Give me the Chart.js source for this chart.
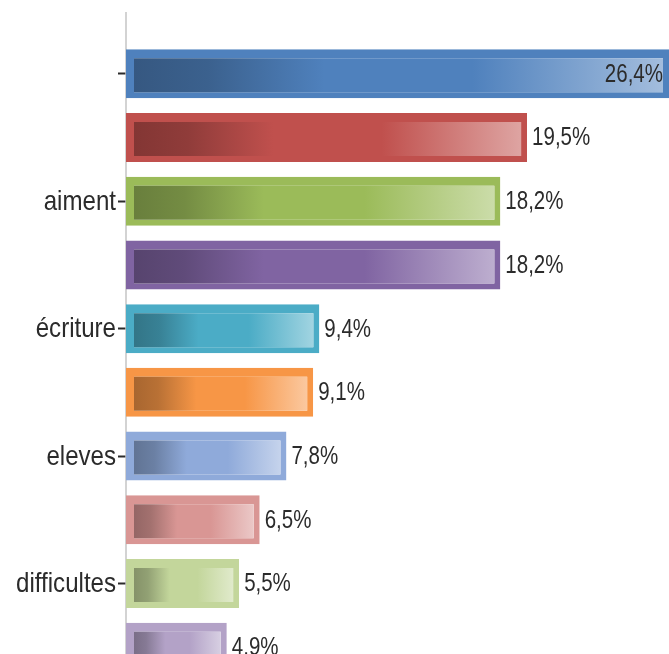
<!DOCTYPE html>
<html>
<head>
<meta charset="utf-8">
<script src="https://cdn.jsdelivr.net/npm/chart.js@4.4.1/dist/chart.umd.min.js"></script>
<style>
  html, body { margin: 0; padding: 0; background: #fff; overflow: hidden; }
  #wrap { position: relative; width: 669px; height: 683px; }
</style>
</head>
<body>
<div id="wrap"><canvas id="c"></canvas></div>
<script>
/* Horizontal bar chart — share of words, gradient bars with solid frame. */
var categories = ["", "", "aiment", "", "écriture", "", "eleves", "", "difficultes", ""];
var values = [26.4, 19.5, 18.2, 18.2, 9.4, 9.1, 7.8, 6.5, 5.5, 4.9];
var barColors = ["#4F81BD", "#C0504D", "#9BBB59", "#8064A2", "#4BACC6", "#F79646", "#8FAADA", "#D99694", "#C3D69B", "#B3A2C7"];
var xMax = 26.4;
var FONT = "'Liberation Sans', Arial, sans-serif";

function hexRgb(h) { h = h.replace("#", ""); return [parseInt(h.slice(0, 2), 16), parseInt(h.slice(2, 4), 16), parseInt(h.slice(4, 6), 16)]; }
function mix(h, t, k) { var c = hexRgb(h); return "rgb(" + c.map(function (v) { return Math.round(v + (t - v) * k); }).join(",") + ")"; }
function fmt(v) { return v.toFixed(1).replace(".", ",") + "%"; }

// narrow text: the source font is a condensed sans, squeeze Liberation Sans sideways
function narrowText(ctx, t, x, y, align, sx) {
  ctx.save();
  ctx.translate(x, y);
  ctx.scale(sx, 1);
  ctx.textAlign = align;
  ctx.fillText(t, 0, 0);
  ctx.restore();
}

var axisLine = {
  id: "axisLine",
  beforeDatasetsDraw: function (chart) {
    var ctx = chart.ctx, a = chart.chartArea;
    ctx.save();
    ctx.strokeStyle = "#c4c4c4";
    ctx.lineWidth = 1.5;
    ctx.beginPath();
    ctx.moveTo(a.left, 12);
    ctx.lineTo(a.left, chart.height);
    ctx.stroke();
    ctx.restore();
  }
};

var catLabels = {
  id: "catLabels",
  afterDraw: function (chart) {
    var ctx = chart.ctx, ys = chart.scales.y, a = chart.chartArea;
    ctx.save();
    ctx.font = "28px " + FONT;
    ctx.fillStyle = "#2b2b2b";
    ctx.textBaseline = "middle";
    categories.forEach(function (lab, i) {
      if (lab) narrowText(ctx, lab, a.left - 10, ys.getPixelForValue(i) + 1, "right", 0.86);
    });
    ctx.restore();
  }
};

var valueLabels = {
  id: "valueLabels",
  afterDatasetsDraw: function (chart) {
    var ctx = chart.ctx, a = chart.chartArea, sx = 0.82;
    ctx.save();
    ctx.font = "25px " + FONT;
    ctx.fillStyle = "#2b2b2b";
    ctx.textBaseline = "middle";
    chart.getDatasetMeta(0).data.forEach(function (bar, i) {
      var t = fmt(values[i]), w = ctx.measureText(t).width * sx;
      if (bar.x + 5 + w > a.right) narrowText(ctx, t, bar.x - 6, bar.y + 1, "right", sx);
      else narrowText(ctx, t, bar.x + 5, bar.y + 1, "left", sx);
    });
    ctx.restore();
  }
};

new Chart(document.getElementById("c"), {
  type: "bar",
  data: {
    labels: categories,
    datasets: [{
      data: values,
      borderColor: barColors,
      borderWidth: { left: 8, right: 6, top: 9, bottom: 6 },
      borderSkipped: false,
      backgroundColor: function (c) {
        var base = barColors[c.dataIndex];
        var xs = c.chart.scales.x;
        if (!c.chart.chartArea || !xs) return base;
        var x0 = xs.getPixelForValue(0) + 8, x1 = xs.getPixelForValue(values[c.dataIndex]) - 6;
        var g = c.chart.ctx.createLinearGradient(x0, 0, x1, 0);
        g.addColorStop(0, mix(base, 0, 0.32));
        g.addColorStop(0.14, mix(base, 0, 0.25));
        g.addColorStop(0.36, base);
        g.addColorStop(0.64, base);
        g.addColorStop(1, mix(base, 255, 0.48));
        return g;
      },
      categoryPercentage: 1,
      barPercentage: 0.77
    }]
  },
  options: {
    indexAxis: "y",
    responsive: true,
    maintainAspectRatio: false,
    animation: false,
    layout: { padding: { top: 42, bottom: 4, left: 0, right: 0 } },
    plugins: { legend: { display: false }, tooltip: { enabled: false } },
    scales: {
      x: { display: false, min: 0, max: xMax },
      y: {
        border: { display: false },
        grid: {
          offset: false,
          drawOnChartArea: false,
          tickLength: 8,
          tickWidth: 2,
          tickColor: function (c) { return categories[c.index] === "" && c.index !== 0 ? "rgba(0,0,0,0)" : "#2b2b2b"; }
        },
        ticks: { display: false, autoSkip: false },
        afterFit: function (s) { s.width = 126; }
      }
    }
  },
  plugins: [axisLine, catLabels, valueLabels]
});
</script>
</body>
</html>
